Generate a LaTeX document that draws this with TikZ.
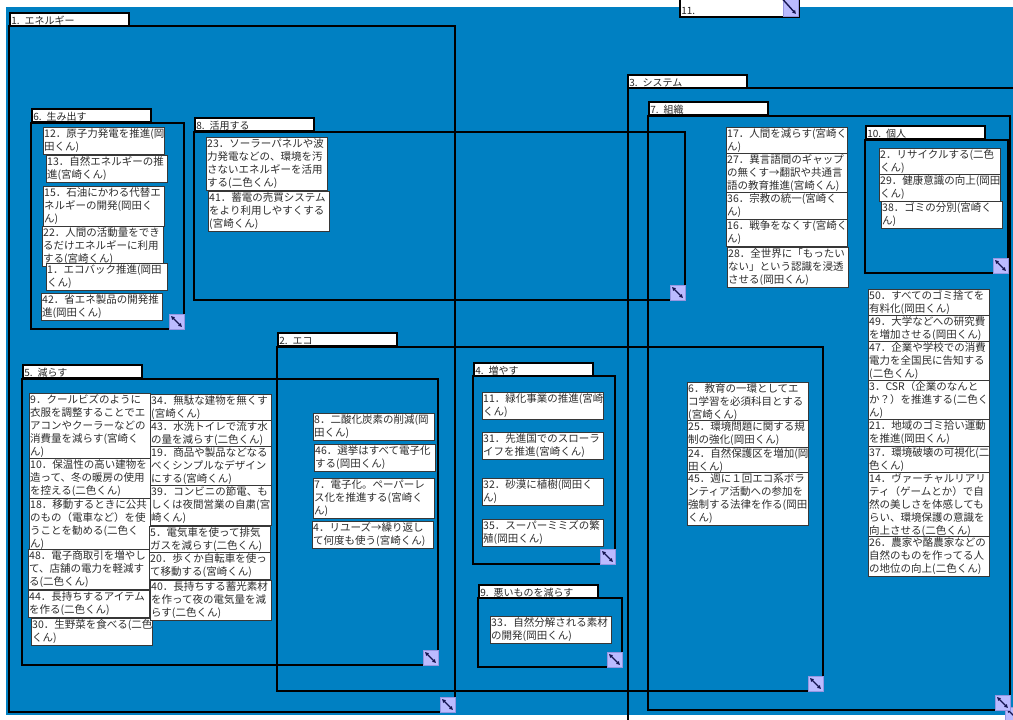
\documentclass[tikz,border=0pt]{standalone}
\usepackage{fontspec}
\newfontfamily\jp{Noto Sans CJK JP}
\usetikzlibrary{arrows.meta}
\definecolor{canvas}{RGB}{0,128,194}
\definecolor{grip}{RGB}{187,187,255}
\definecolor{gripedge}{RGB}{150,150,225}
\definecolor{gripline}{RGB}{20,20,80}
\definecolor{txt}{RGB}{45,45,45}
\definecolor{noteline}{RGB}{55,55,55}
\tikzset{
  notebox/.style={draw=noteline, line width=0.8pt, fill=white, anchor=north west,
    inner xsep=0.8pt, inner ysep=0pt, text width=119.4pt, align=left,
    font=\jp\fontsize{10.5}{13}\selectfont, text=txt},
  nl/.style={minimum height={#1*13pt+1pt}},
  headbox/.style={draw=black, line width=1.6pt, fill=white, anchor=north west,
    inner xsep=1pt, inner ysep=0pt, minimum width=119pt, minimum height=13pt,
    text width=116pt, align=left, text height=10.5pt, text depth=0pt,
    font=\jp\fontsize{10}{12}\selectfont, text=black!85},
  frameline/.style={draw=black, line width=1.5pt},
  gripbox/.style={fill=grip, draw=gripedge, line width=0.5pt},
  griparrow/.style={draw=gripline, line width=1.4pt,
    arrows={Latex[length=3.6pt,width=4.4pt]-Latex[length=3.6pt,width=4.4pt]}},
}
\newcommand\mygrip[2]{%
  \filldraw[gripbox] (#1,#2) rectangle ({#1+15},{#2+15});
  \draw[griparrow] ({#1+2},{#2+2}) -- ({#1+13},{#2+13});}
\begin{document}
\begin{tikzpicture}[x=1pt,y=-1pt]
\useasboundingbox (0,0) rectangle (1013,720);
\clip (0,0) rectangle (1013,720);
\fill[white] (0,0) rectangle (1013,720);
\fill[canvas] (6,7) rectangle (1013,715);

% frames
\draw[frameline] (9,26) rectangle (455,712);    % 1
\draw[frameline] (31,123) rectangle (184,329);  % 6
\draw[frameline] (194,132) rectangle (685,300); % 8
\draw[frameline] (628,88) rectangle (1020,722); % 3
\draw[frameline] (648,116) rectangle (1010,710);% 7
\draw[frameline] (865,140) rectangle (1008,273);% 10
\draw[frameline] (277,347) rectangle (823,691); % 2
\draw[frameline] (22,379) rectangle (438,665);  % 5
\draw[frameline] (473,376) rectangle (615,564); % 4
\draw[frameline] (478,598) rectangle (622,667); % 9

% headers
\node[headbox] (h1) at (9,12) {1. エネルギー};
\node[headbox] (h6) at (31,108) {6. 生み出す};
\node[headbox] (h8) at (194,117) {8. 活用する};
\node[headbox] (h3) at (627,74) {3. システム};
\node[headbox] (h7) at (648,101) {7. 組織};
\node[headbox] (h10) at (865,125) {10. 個人};
\node[headbox] (h2) at (277,332) {2. エコ};
\node[headbox] (h5) at (22,364) {5. 減らす};
\node[headbox] (h4) at (473,362) {4. 増やす};
\node[headbox] (h9) at (478,584) {9. 悪いものを減らす};
\node[headbox, minimum height=19pt, text height=14pt] (h11) at (679,-3) {11.};

% frame 6
\node[notebox,nl=2] (n12) at (43,127) {12．原子力発電を推進(岡\\田くん)};
\node[notebox,nl=2] (n13) at (46,155) {13．自然エネルギーの推\\進(宮崎くん)};
\node[notebox,nl=3] (n15) at (43,186) {15．石油にかわる代替エ\\ネルギーの開発(岡田く\\ん)};
\node[notebox,nl=3] (n22) at (42,226) {22．人間の活動量をでき\\るだけエネルギーに利用\\する(宮崎くん)};
\node[notebox,nl=2] (n1) at (46,263) {1．エコバック推進(岡田\\くん)};
\node[notebox,nl=2] (n42) at (41,293) {42．省エネ製品の開発推\\進(岡田くん)};

% frame 8
\node[notebox,nl=4] (n23) at (206,137) {23．ソーラーパネルや波\\力発電などの、環境を汚\\さないエネルギーを活用\\する(二色くん)};
\node[notebox,nl=3] (n41) at (208,191) {41．蓄電の売買システム\\をより利用しやすくする\\(宮崎くん)};

% frame 7 column A
\node[notebox,nl=2] (n17) at (726,127) {17．人間を減らす(宮崎く\\ん)};
\node[notebox,nl=3] (n27) at (726,153) {27．異言語間のギャップ\\の無くす→翻訳や共通言\\語の教育推進(宮崎くん)};
\node[notebox,nl=2] (n36) at (726,192) {36．宗教の統一(宮崎く\\ん)};
\node[notebox,nl=2] (n16) at (726,219) {16．戦争をなくす(宮崎く\\ん)};
\node[notebox,nl=3] (n28) at (727,247) {28．全世界に「もったい\\ない」という認識を浸透\\させる(岡田くん)};

% frame 10
\node[notebox,nl=2] (n2) at (879,148) {2．リサイクルする(二色\\くん)};
\node[notebox,nl=2] (n29) at (879,174) {29．健康意識の向上(岡田\\くん)};
\node[notebox,nl=2] (n38) at (881,201) {38．ゴミの分別(宮崎く\\ん)};

% frame 7 column B
\node[notebox,nl=2] (n50) at (868,289) {50．すべてのゴミ捨てを\\有料化(岡田くん)};
\node[notebox,nl=2] (n49) at (868,315) {49．大学などへの研究費\\を増加させる(岡田くん)};
\node[notebox,nl=3] (n47) at (868,341) {47．企業や学校での消費\\電力を全国民に告知する\\(二色くん)};
\node[notebox,nl=3] (n3) at (868,380) {3．CSR（企業のなんと\\か？）を推進する(二色く\\ん)};
\node[notebox,nl=2] (n21) at (868,419) {21．地域のゴミ拾い運動\\を推進(岡田くん)};
\node[notebox,nl=2] (n37) at (868,446) {37．環境破壊の可視化(二\\色くん)};
\node[notebox,nl=5] (n14) at (868,472) {14．ヴァーチャルリアリ\\ティ（ゲームとか）で自\\然の美しさを体感しても\\らい、環境保護の意識を\\向上させる(二色くん)};
\node[notebox,nl=3] (n26) at (868,536) {26．農家や酪農家などの\\自然のものを作ってる人\\の地位の向上(二色くん)};

% column C
\node[notebox,nl=3] (n6) at (687,382) {6．教育の一環としてエ\\コ学習を必須科目とする\\(宮崎くん)};
\node[notebox,nl=2] (n25) at (687,420) {25．環境問題に関する規\\制の強化(岡田くん)};
\node[notebox,nl=2] (n24) at (687,447) {24．自然保護区を増加(岡\\田くん)};
\node[notebox,nl=4] (n45) at (687,472) {45．週に１回エコ系ボラ\\ンティア活動への参加を\\強制する法律を作る(岡田\\くん)};

% frame 5 left
\node[notebox,nl=5] (n9) at (29,393) {9．クールビズのように\\衣服を調整することでエ\\アコンやクーラーなどの\\消費量を減らす(宮崎く\\ん)};
\node[notebox,nl=3] (n10) at (29,458) {10．保温性の高い建物を\\造って、冬の暖房の使用\\を控える(二色くん)};
\node[notebox,nl=4] (n18) at (29,498) {18．移動するときに公共\\のもの（電車など）を使\\うことを勧める(二色く\\ん)};
\node[notebox,nl=3] (n48) at (28,549) {48．電子商取引を増やし\\て、店舗の電力を軽減す\\る(二色くん)};
\node[notebox,nl=2] (n44) at (28,590) {44．長持ちするアイテム\\を作る(二色くん)};
\node[notebox,nl=2] (n30) at (31,618) {30．生野菜を食べる(二色\\くん)};

% frame 5 right
\node[notebox,nl=2] (n34) at (150,394) {34．無駄な建物を無くす\\(宮崎くん)};
\node[notebox,nl=2] (n43) at (150,420) {43．水洗トイレで流す水\\の量を減らす(二色くん)};
\node[notebox,nl=3] (n19) at (150,446) {19．商品や製品などなる\\べくシンプルなデザイン\\にする(宮崎くん)};
\node[notebox,nl=3] (n39) at (150,485) {39．コンビニの節電、も\\しくは夜間営業の自粛(宮\\崎くん)};
\node[notebox,nl=2] (n5) at (149,526) {5．電気車を使って排気\\ガスを減らす(二色くん)};
\node[notebox,nl=2] (n20) at (149,552) {20．歩くか自転車を使っ\\て移動する(宮崎くん)};
\node[notebox,nl=3] (n40) at (150,580) {40．長持ちする蓄光素材\\を作って夜の電気量を減\\らす(二色くん)};

% frame 2
\node[notebox,nl=2] (n8) at (313,413) {8．二酸化炭素の削減(岡\\田くん)};
\node[notebox,nl=2] (n46) at (314,444) {46．選挙はすべて電子化\\する(岡田くん)};
\node[notebox,nl=3] (n7) at (313,478) {7．電子化。ペーパーレ\\ス化を推進する(宮崎く\\ん)};
\node[notebox,nl=2] (n4) at (312,521) {4．リユーズ→繰り返し\\て何度も使う(宮崎くん)};

% frame 4
\node[notebox,nl=2] (n11) at (482,392) {11．緑化事業の推進(宮崎\\くん)};
\node[notebox,nl=2] (n31) at (482,432) {31．先進国でのスローラ\\イフを推進(宮崎くん)};
\node[notebox,nl=2] (n32) at (482,478) {32．砂漠に植樹(岡田く\\ん)};
\node[notebox,nl=2] (n35) at (482,519) {35．スーパーミミズの繁\\殖(岡田くん)};

% frame 9
\node[notebox,nl=2] (n33) at (490,616) {33．自然分解される素材\\の開発(岡田くん)};

% resize grips
\mygrip{440}{697}
\mygrip{169}{314}
\mygrip{670}{285}
\mygrip{1005}{707}
\mygrip{995}{695}
\mygrip{993}{258}
\mygrip{808}{676}
\mygrip{423}{650}
\mygrip{600}{549}
\mygrip{607}{652}
\filldraw[gripbox] (783,-2) rectangle (798,16);
\draw[griparrow] (778,-6) -- (796,14);
\end{tikzpicture}
\end{document}
